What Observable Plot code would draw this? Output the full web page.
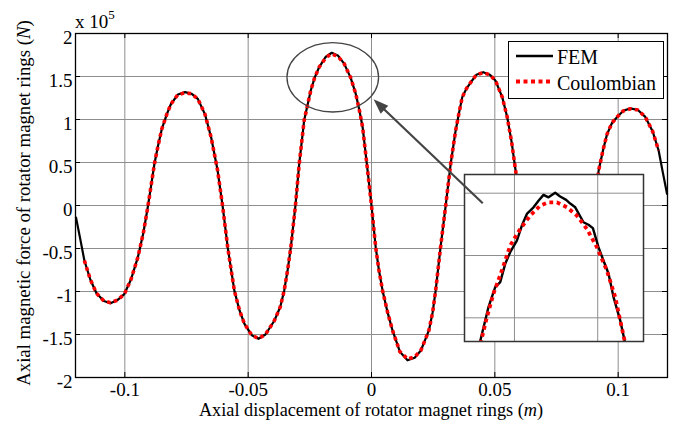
<!DOCTYPE html>
<html><head><meta charset="utf-8">
<script src="https://cdn.jsdelivr.net/npm/d3@7"></script>
<script src="https://cdn.jsdelivr.net/npm/@observablehq/plot@0.6"></script>
<style>body{margin:0;background:#fff} #chart svg{display:block} #chart text{font-family:"Liberation Serif","Times New Roman",serif}</style>
</head><body><div id="chart"></div>
<script>
// Axial displacement (m)
const displacement = [-0.1198,-0.1180,-0.1164,-0.1140,-0.1115,-0.1085,-0.1058,-0.1030,-0.1002,-0.0975,-0.0947,-0.0925,-0.0907,-0.0893,-0.0880,-0.0865,-0.0850,-0.0830,-0.0813,-0.0785,-0.0756,-0.0730,-0.0704,-0.0675,-0.0650,-0.0624,-0.0603,-0.0583,-0.0556,-0.0535,-0.0515,-0.0485,-0.0458,-0.0430,-0.0394,-0.0370,-0.0354,-0.0340,-0.0327,-0.0309,-0.0293,-0.0273,-0.0246,-0.0230,-0.0212,-0.0185,-0.0161,-0.0135,-0.0111,-0.0085,-0.0064,-0.0050,-0.0036,-0.0016,0.0000,0.0017,0.0030,0.0045,0.0065,0.0085,0.0115,0.0146,0.0175,0.0200,0.0215,0.0233,0.0248,0.0260,0.0280,0.0300,0.0321,0.0341,0.0355,0.0368,0.0385,0.0402,0.0425,0.0453,0.0480,0.0503,0.0530,0.0550,0.0568,0.0584,0.0603,0.0625,0.0650,0.0680,0.0720,0.0756,0.0790,0.0830,0.0860,0.0885,0.0905,0.0921,0.0940,0.0955,0.0975,0.0996,0.1020,0.1050,0.1080,0.1110,0.1140,0.1164,0.1180,0.1198];
// FEM axial force (x 1e5 N)
const femForce = [-0.14,-0.40,-0.64,-0.86,-1.02,-1.11,-1.136,-1.10,-1.03,-0.86,-0.60,-0.32,-0.02,0.24,0.485,0.70,0.89,1.06,1.18,1.29,1.318,1.30,1.24,1.06,0.79,0.41,-0.02,-0.485,-0.99,-1.22,-1.376,-1.51,-1.55,-1.50,-1.34,-1.18,-0.99,-0.75,-0.485,-0.02,0.485,0.99,1.34,1.49,1.61,1.73,1.776,1.74,1.65,1.49,1.30,1.12,0.91,0.41,0.00,-0.485,-0.75,-0.99,-1.24,-1.45,-1.70,-1.80,-1.77,-1.686,-1.58,-1.45,-1.24,-0.99,-0.485,-0.02,0.485,0.87,1.08,1.26,1.36,1.43,1.52,1.55,1.52,1.45,1.26,1.03,0.74,0.41,0.02,-0.45,-0.85,-1.15,-1.30,-1.33,-1.28,-1.10,-0.80,-0.40,0.02,0.41,0.66,0.83,0.96,1.03,1.10,1.13,1.11,1.03,0.86,0.64,0.40,0.136];
// Coulombian axial force (x 1e5 N), computed on a slightly narrower range
const coulombForce = [null,null,-0.64,-0.86,-1.02,-1.11,-1.13,-1.10,-1.03,-0.86,-0.60,-0.32,-0.02,0.24,0.485,0.70,0.89,1.06,1.18,1.29,1.31,1.30,1.24,1.06,0.79,0.41,-0.02,-0.485,-0.99,-1.22,-1.376,-1.51,-1.545,-1.50,-1.34,-1.18,-0.99,-0.75,-0.485,-0.02,0.485,0.99,1.34,1.49,1.61,1.72,1.765,1.73,1.65,1.49,1.30,1.12,0.91,0.41,0.00,-0.485,-0.75,-0.99,-1.24,-1.45,-1.70,-1.785,-1.76,-1.686,-1.58,-1.45,-1.24,-0.99,-0.485,-0.02,0.485,0.87,1.08,1.26,1.36,1.43,1.52,1.545,1.52,1.45,1.26,1.03,0.74,0.41,0.02,-0.45,-0.85,-1.15,-1.30,-1.32,-1.28,-1.10,-0.80,-0.40,0.02,0.41,0.66,0.83,0.96,1.03,1.10,1.125,1.11,1.03,0.86,0.64,null,null];

const xTicks = [-0.1, -0.05, 0, 0.05, 0.1];
const yTicks = [-2, -1.5, -1, -0.5, 0, 0.5, 1, 1.5, 2];
const seriesNames = ["FEM", "Coulombian"];

// Zoomed view of the central peak
const insetFemX = [-0.0244,-0.02312,-0.02231,-0.02171,-0.02111,-0.02051,-0.01971,-0.01911,-0.01851,-0.01771,-0.01711,-0.01651,-0.01591,-0.01511,-0.01451,-0.01379,-0.0133,-0.0127,-0.01171,-0.01111,-0.01058,-0.00991,-0.00931,-0.0087,-0.0081,-0.0073,-0.0065];
const insetFemY = [1.38,1.486,1.534,1.546,1.590,1.618,1.646,1.682,1.710,1.726,1.742,1.756,1.750,1.761,1.752,1.744,1.735,1.726,1.690,1.684,1.676,1.630,1.598,1.566,1.510,1.454,1.38];
const insetCoulX = [-0.0243,-0.02331,-0.02252,-0.02151,-0.02051,-0.01931,-0.01811,-0.01691,-0.01591,-0.0149,-0.0137,-0.0125,-0.0113,-0.0101,-0.0089,-0.0079,-0.0065];
const insetCoulY = [1.38,1.4615,1.518,1.574,1.634,1.674,1.706,1.730,1.738,1.738,1.726,1.706,1.674,1.630,1.574,1.510,1.38];
const insetXDomain = [-0.026, -0.0045];
const insetYDomain = [1.403, 1.805];
const insetXGrid = [-0.02, -0.01];
const insetYGrid = [1.46, 1.61, 1.76];

// Annotation: ellipse around the peak and arrow to the inset (data coordinates)
const zoomCenter = [-0.0155, 1.485];
const arrowFrom = [0.0453, 0.02];
const arrowTo = [0.00105, 1.229];

const femData = displacement.map((x, i) => ({x, y: femForce[i]}));
const coulData = displacement.map((x, i) => ({x, y: coulombForce[i]})).filter(d => d.y != null);
const insetFem = insetFemX.map((x, i) => ({x, y: insetFemY[i]}));
const insetCoul = insetCoulX.map((x, i) => ({x, y: insetCoulY[i]}));

const FONT = "Liberation Serif, Times New Roman, serif";
const GRID = "#8e8e8e";
const RED = "#ff0000";

const plot = Plot.plot({
  width: 682, height: 423,
  marginLeft: 75, marginRight: 15, marginTop: 33, marginBottom: 46,
  style: {fontFamily: FONT, fontSize: "19px", background: "white", color: "black"},
  x: {domain: [-0.12, 0.12]},
  y: {domain: [-2, 2]},
  marks: [
    Plot.gridX(xTicks, {stroke: GRID, strokeOpacity: 1, strokeWidth: 1}),
    Plot.gridY(yTicks, {stroke: GRID, strokeOpacity: 1, strokeWidth: 1}),
    Plot.tickX(xTicks, {x: d => d, insetTop: 339, stroke: "black"}),
    Plot.tickX(xTicks, {x: d => d, insetBottom: 339, stroke: "black"}),
    Plot.tickY(yTicks, {y: d => d, insetLeft: 587, stroke: "black"}),
    Plot.tickY(yTicks, {y: d => d, insetRight: 587, stroke: "black"}),
    Plot.axisX(xTicks, {tickSize: 0, tickPadding: 5, tickFormat: d => String(d), label: null, fontSize: 19, fontVariant: "normal"}),
    Plot.axisY(yTicks, {tickSize: 0, tickPadding: 3, tickFormat: d => String(d), label: null, fontSize: 19, fontVariant: "normal", dy: 4}),
    Plot.line(femData, {x: "x", y: "y", stroke: "black", strokeWidth: 2.2}),
    Plot.line(coulData, {x: "x", y: "y", stroke: RED, strokeWidth: 3.6, strokeLinecap: "butt", strokeDasharray: "3.6,3.4"}),
    Plot.frame({stroke: "black", strokeWidth: 1.3})
  ]
});

const inset = Plot.plot({
  width: 179, height: 167, margin: 0,
  x: {domain: insetXDomain, axis: null},
  y: {domain: insetYDomain, axis: null},
  marks: [
    Plot.frame({fill: "white"}),
    Plot.gridX(insetXGrid, {stroke: GRID, strokeOpacity: 1}),
    Plot.gridY(insetYGrid, {stroke: GRID, strokeOpacity: 1}),
    Plot.line(insetFem, {x: "x", y: "y", stroke: "black", strokeWidth: 2.4, clip: true}),
    Plot.line(insetCoul, {x: "x", y: "y", stroke: RED, strokeWidth: 3.8, strokeLinecap: "butt", strokeDasharray: "3.8,3.6", clip: true}),
    Plot.frame({stroke: "#333", strokeWidth: 1.5})
  ]
});

const svg = d3.select(plot);
const sx = plot.scale("x"), sy = plot.scale("y");

// ellipse around the peak
svg.append("ellipse")
  .attr("cx", sx.apply(zoomCenter[0])).attr("cy", sy.apply(zoomCenter[1]))
  .attr("rx", 45.8).attr("ry", 34.7)
  .attr("fill", "none").attr("stroke", "#444").attr("stroke-width", 1.3);

// inset: move its content into a translated group
{
  const g = svg.append("g").attr("transform", "translate(464,174)").node();
  while (inset.firstChild) g.appendChild(inset.firstChild);
}

// arrow
{
  const x1 = sx.apply(arrowFrom[0]), y1 = sy.apply(arrowFrom[1]);
  const x2 = sx.apply(arrowTo[0]), y2 = sy.apply(arrowTo[1]);
  const len = Math.hypot(x2 - x1, y2 - y1), ux = (x2 - x1) / len, uy = (y2 - y1) / len;
  const hl = 15, hw = 5.5;
  const bx = x2 - ux * hl, by = y2 - uy * hl;
  svg.append("line").attr("x1", x1).attr("y1", y1).attr("x2", bx + ux * 2).attr("y2", by + uy * 2)
    .attr("stroke", "#444").attr("stroke-width", 2.2);
  svg.append("path")
    .attr("d", `M${x2},${y2}L${bx - uy * hw},${by + ux * hw}L${bx + uy * hw},${by - ux * hw}Z`)
    .attr("fill", "#444");
}

// legend
{
  const g = svg.append("g").attr("font-size", 20).attr("text-anchor", "start").attr("fill", "black");
  g.append("rect").attr("x", 508.5).attr("y", 41.5).attr("width", 155).attr("height", 57)
    .attr("fill", "white").attr("stroke", "black").attr("stroke-width", 1);
  g.append("line").attr("x1", 516).attr("x2", 553).attr("y1", 56).attr("y2", 56)
    .attr("stroke", "black").attr("stroke-width", 2.4);
  g.append("line").attr("x1", 516).attr("x2", 553).attr("y1", 81.5).attr("y2", 81.5)
    .attr("stroke", RED).attr("stroke-width", 4).attr("stroke-dasharray", "4,3.5");
  g.append("text").attr("x", 557).attr("y", 63.5).text(seriesNames[0]);
  g.append("text").attr("x", 557).attr("y", 90).text(seriesNames[1]);
}

// axis titles and exponent
{
  const g = svg.append("g").attr("fill", "black");
  const xl = g.append("text").attr("x", 371).attr("y", 416).attr("text-anchor", "middle").attr("font-size", 18.3);
  xl.append("tspan").text("Axial displacement of rotator magnet rings (");
  xl.append("tspan").attr("font-style", "italic").text("m");
  xl.append("tspan").text(")");
  const yl = g.append("text").attr("transform", "translate(29.5,203) rotate(-90)").attr("text-anchor", "middle").attr("font-size", 18.8);
  yl.append("tspan").text("Axial magnetic force of rotator magnet rings (");
  yl.append("tspan").attr("font-style", "italic").text("N");
  yl.append("tspan").text(")");
  const ex = g.append("text").attr("x", 75).attr("y", 28).attr("font-size", 19).attr("text-anchor", "start");
  ex.append("tspan").text("x 10");
  ex.append("tspan").attr("font-size", 13).attr("dy", -9).text("5");
}

document.getElementById("chart").appendChild(plot);
</script>
</body></html>
